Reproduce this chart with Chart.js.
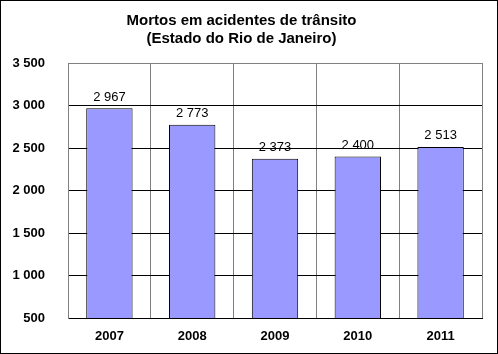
<!DOCTYPE html>
<html><head><meta charset="utf-8">
<script src="https://cdn.jsdelivr.net/npm/chart.js@4/dist/chart.umd.min.js"></script>
<style>
html,body{margin:0;padding:0;background:#fff;}
#wrap{position:relative;width:498px;height:354px;box-sizing:border-box;border:1px solid #000;}
canvas{display:block;}
</style></head><body>
<div id="wrap"><canvas id="c" width="496" height="352"></canvas></div>
<script>
const titleLines = ["Mortos em acidentes de trânsito", "(Estado do Rio de Janeiro)"];
const years = ["2007", "2008", "2009", "2010", "2011"];
const deaths = [2967, 2773, 2373, 2400, 2513];
const yMin = 500, yMax = 3500, yStep = 500;

function fmt(v){ return String(v).replace(/\B(?=(\d{3})+(?!\d))/g, " "); }

const FONT = "'Liberation Sans', Arial, sans-serif";

const valueLabels = {
  id: 'valueLabels',
  afterDatasetsDraw(chart){
    const ctx = chart.ctx;
    const meta = chart.getDatasetMeta(0);
    ctx.save();
    ctx.font = "13px " + FONT;
    ctx.fillStyle = "#000";
    ctx.textAlign = "center";
    ctx.textBaseline = "middle";
    meta.data.forEach((bar, i) => {
      ctx.fillText(fmt(chart.data.datasets[0].data[i]), bar.x, bar.y - 11);
    });
    ctx.restore();
  }
};

new Chart(document.getElementById('c'), {
  type: 'bar',
  data: {
    labels: years,
    datasets: [{
      data: deaths,
      backgroundColor: '#9999FF',
      borderColor: '#000',
      borderWidth: 1,
      borderSkipped: false,
      barPercentage: 0.56,
      categoryPercentage: 1
    }]
  },
  options: {
    responsive: false,
    animation: false,
    devicePixelRatio: 1,
    layout: { padding: { left: 0, right: 15, top: 0, bottom: 0 } },
    plugins: {
      legend: { display: false },
      tooltip: { enabled: false },
      title: {
        display: true,
        text: titleLines,
        color: '#000',
        font: { family: FONT, size: 15, weight: 'bold', lineHeight: 1.2 },
        padding: { top: 11, bottom: 15 }
      }
    },
    scales: {
      x: {
        grid: { display: true, color: '#808080', drawTicks: false, offset: true },
        border: { display: true, color: '#000', width: 1 },
        ticks: { color: '#000', font: { family: FONT, size: 13, weight: 'bold' }, padding: 11 },
        afterFit: s => { s.height = 35; }
      },
      y: {
        min: yMin, max: yMax,
        grid: {
          drawTicks: false,
          color: c => (c.tick && c.tick.value === yMax) ? '#808080' : '#000'
        },
        border: { display: true, color: '#808080', width: 1 },
        ticks: {
          stepSize: yStep,
          color: '#000',
          padding: 23,
          font: { family: FONT, size: 13, weight: 'bold' },
          callback: v => fmt(v)
        },
        afterFit: s => { s.width = 67; }
      }
    }
  },
  plugins: [valueLabels]
});
</script>
</body></html>
